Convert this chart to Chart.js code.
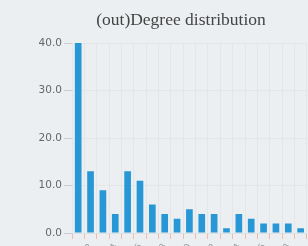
<!DOCTYPE html>
<html>
<head>
<meta charset="utf-8">
<script src="https://cdn.jsdelivr.net/npm/chart.js@4/dist/chart.umd.min.js"></script>
<style>
  html, body { margin: 0; padding: 0; background: #eceff1; overflow: hidden; }
  #wrap { width: 308px; height: 246px; overflow: hidden; position: relative; }
  canvas { display: block; }
</style>
</head>
<body>
<div id="wrap"><canvas id="degree-chart" width="313" height="272"></canvas></div>
<script>
// degree buckets (only the visible part of the original chart)
const DEGREES = ["1", "2", "3", "4", "5", "6", "7", "8", "9", "10",
  "11", "12", "13", "14", "15", "16", "17", "18", "19"];
const COUNTS = [40, 13, 9, 4, 13, 11, 6, 4, 3, 5, 4, 4, 1, 4, 3, 2, 2, 2, 1];
const Y_TICKS = [0, 10, 20, 30, 40];

const BAR_COLOR = "#2897d6";
const FULL_WIDTH = 362; // width of the original, wider chart the title was centred on

// the original picture is a crop, so centre the title on the uncropped width
const titleSpan = {
  id: "titleSpan",
  afterLayout(chart) {
    const t = chart.titleBlock;
    if (!t) return;
    t.left = 0;
    t.right = FULL_WIDTH;
    t.width = FULL_WIDTH;
  },
};

new Chart(document.getElementById("degree-chart"), {
  type: "bar",
  data: {
    labels: DEGREES,
    datasets: [{
      label: "count",
      data: COUNTS,
      backgroundColor: BAR_COLOR,
      borderWidth: 0,
      barPercentage: 0.9,
      categoryPercentage: 0.6,
    }],
  },
  plugins: [titleSpan],
  options: {
    responsive: false,
    animation: false,
    plugins: {
      legend: { display: false },
      tooltip: { enabled: false },
      title: {
        display: true,
        text: "(out)Degree distribution",
        color: "#444",
        font: { family: "Liberation Serif", size: 17.5, weight: "normal" },
        padding: { top: 10, bottom: 12 },
      },
    },
    scales: {
      x: {
        grid: { color: "rgba(0,0,0,0.03)", tickColor: "#f2b8a8", tickLength: 6 },
        border: { color: "#dde1e4" },
        ticks: {
          color: "#999",
          font: { family: "DejaVu Sans", size: 9 },
          maxRotation: 60, minRotation: 60, autoSkip: false,
          callback: (v, i) => (i % 2 === 1 ? DEGREES[i] : ""),
        },
        afterFit: (s) => { s.height = 39; },
      },
      y: {
        min: 0,
        max: 40,
        afterBuildTicks: (s) => { s.ticks = Y_TICKS.map(v => ({ value: v })); },
        grid: { color: "rgba(0,0,0,0.03)", tickColor: "#c9cdd0", tickLength: 8 },
        border: { display: false },
        ticks: {
          color: "#666",
          font: { family: "DejaVu Sans", size: 10.5 },
          padding: 2,
          callback: (v) => Number(v).toFixed(1),
        },
        afterFit: (s) => { s.width = 72; },
      },
    },
  },
});
</script>
</body>
</html>
